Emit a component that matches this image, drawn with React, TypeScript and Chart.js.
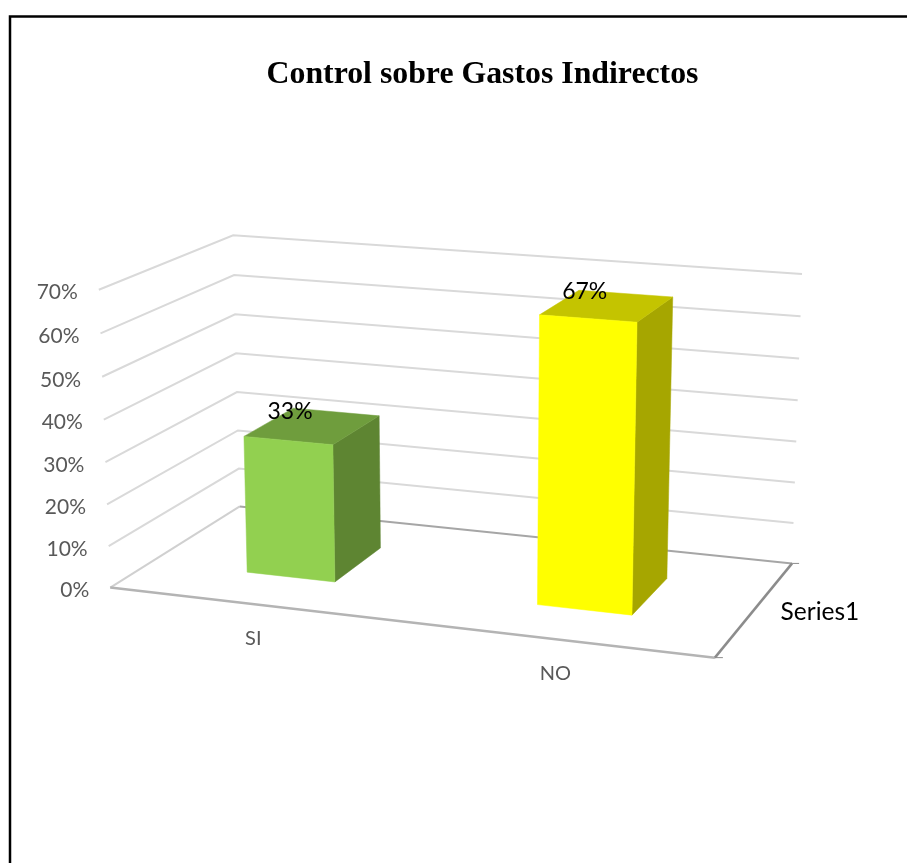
import React, { useEffect, useRef } from "react";
import { Chart, registerables } from "chart.js";

Chart.register(...registerables);

const categories = ["SI", "NO"];
const seriesName = "Series1";
const seriesValues = [33, 67];
const barColors = ["#92D050", "#FFFF00"];
const barTopColors = ["#6F9D3D", "#C4C400"];
const barSideColors = ["#5E8532", "#A6A600"];
const chartTitle = "Control sobre Gastos Indirectos";

// Camera calibration: where corners of the unit box (u along categories,
// v up the value axis, w into the depth) land on the page.
const camera: number[][] = [
  [0, 0, 0, 110, 587],
  [0, 1, 0, 99, 290],
  [0, 0, 1, 240, 507],
  [0, 1, 1, 233, 235],
  [1, 0, 1, 792, 563],
  [1, 1, 1, 802, 274],
  [1, 0, 0, 715, 658],
];
const depthRange = [0.3, 0.7];

function fitProjection(pts: number[][]): number[] {
  const n = 11;
  const A: number[][] = Array.from({ length: n }, () => new Array(n + 1).fill(0));
  const add = (row: number[], rhs: number) => {
    for (let i = 0; i < n; i++) {
      for (let j = 0; j < n; j++) A[i][j] += row[i] * row[j];
      A[i][n] += row[i] * rhs;
    }
  };
  for (const [u, v, w, x, y] of pts) {
    add([u, v, w, 1, 0, 0, 0, 0, -x * u, -x * v, -x * w], x);
    add([0, 0, 0, 0, u, v, w, 1, -y * u, -y * v, -y * w], y);
  }
  for (let c = 0; c < n; c++) {
    let best = c;
    for (let r = c + 1; r < n; r++) if (Math.abs(A[r][c]) > Math.abs(A[best][c])) best = r;
    [A[c], A[best]] = [A[best], A[c]];
    for (let r = 0; r < n; r++) {
      if (r === c) continue;
      const f = A[r][c] / A[c][c];
      for (let k = c; k <= n; k++) A[r][k] -= f * A[c][k];
    }
  }
  return A.map((row, i) => row[n] / row[i]);
}

const P = fitProjection(camera);
function project(u: number, v: number, w: number): [number, number] {
  const d = P[8] * u + P[9] * v + P[10] * w + 1;
  return [
    (P[0] * u + P[1] * v + P[2] * w + P[3]) / d,
    (P[4] * u + P[5] * v + P[6] * w + P[7]) / d,
  ];
}

const stroke = (ctx: CanvasRenderingContext2D, pts: [number, number][], color: string, width: number) => {
  ctx.beginPath();
  pts.forEach((p, i) => (i ? ctx.lineTo(p[0], p[1]) : ctx.moveTo(p[0], p[1])));
  ctx.strokeStyle = color;
  ctx.lineWidth = width;
  ctx.lineJoin = "miter";
  ctx.stroke();
};
const fill = (ctx: CanvasRenderingContext2D, pts: [number, number][], color: string) => {
  ctx.beginPath();
  pts.forEach((p, i) => (i ? ctx.lineTo(p[0], p[1]) : ctx.moveTo(p[0], p[1])));
  ctx.closePath();
  ctx.fillStyle = color;
  ctx.fill();
  ctx.strokeStyle = color;
  ctx.lineWidth = 0.5;
  ctx.stroke();
};

const perspectivePlugin = {
  id: "perspective3d",
  beforeDraw(chart: any) {
    const ctx = chart.ctx as CanvasRenderingContext2D;
    ctx.save();
    ctx.fillStyle = "#FFFFFF";
    ctx.fillRect(0, 0, chart.width, chart.height);
    stroke(ctx, [[10, chart.height], [10, 16.5], [chart.width, 16.5]], "#000000", 2.5);
    ctx.restore();
  },
  beforeDatasetsDraw(chart: any) {
    const ctx = chart.ctx as CanvasRenderingContext2D;
    const area = chart.chartArea;
    const yScale = chart.scales.y;
    const toU = (px: number) => (px - area.left) / (area.right - area.left);
    const toV = (px: number) => (area.bottom - px) / (area.bottom - area.top);
    ctx.save();

    // walls
    yScale.ticks.forEach((t: any) => {
      const v = toV(yScale.getPixelForValue(t.value));
      if (t.value !== 0) {
        stroke(ctx, [project(0, v, 0), project(0, v, 1), project(1, v, 1)], "#D9D9D9", 2);
      } else {
        stroke(ctx, [project(0, v, 0), project(0, v, 1)], "#D0D0D0", 2);
        stroke(ctx, [project(0, v, 1), project(1, v, 1)], "#A6A6A6", 2);
      }
    });

    // floor edges and depth-axis tick marks
    const fl = project(0, 0, 0);
    const fr = project(1, 0, 0);
    const br = project(1, 0, 1);
    stroke(ctx, [fl, fr], "#B4B4B4", 2.5);
    stroke(ctx, [fr, br], "#8C8C8C", 2.5);
    stroke(ctx, [fr, [fr[0] + 8, fr[1]]], "#8C8C8C", 1);
    stroke(ctx, [br, [br[0] + 7, br[1]]], "#8C8C8C", 1);

    // tick labels
    ctx.font = "21px Lato";
    ctx.fillStyle = "#595959";
    ctx.textAlign = "right";
    ctx.textBaseline = "middle";
    yScale.ticks.forEach((t: any) => {
      const v = toV(yScale.getPixelForValue(t.value));
      const p = project(0, v, 0);
      ctx.fillText(t.label as string, p[0] - 21, p[1] + 3);
    });

    // bars
    const meta = chart.getDatasetMeta(0);
    const [w0, w1] = depthRange;
    meta.data.forEach((bar: any, i: number) => {
      const u0 = toU(bar.x - bar.width / 2);
      const u1 = toU(bar.x + bar.width / 2);
      const v0 = toV(bar.base);
      const v1 = toV(bar.y);
      fill(ctx, [project(u1, v0, w0), project(u1, v0, w1), project(u1, v1, w1), project(u1, v1, w0)], barSideColors[i]);
      fill(ctx, [project(u0, v1, w0), project(u1, v1, w0), project(u1, v1, w1), project(u0, v1, w1)], barTopColors[i]);
      fill(ctx, [project(u0, v0, w0), project(u1, v0, w0), project(u1, v1, w0), project(u0, v1, w0)], barColors[i]);
    });

    // data labels
    ctx.font = "23px Lato";
    ctx.fillStyle = "#000000";
    ctx.textAlign = "center";
    meta.data.forEach((bar: any, i: number) => {
      const p = project(toU(bar.x), toV(bar.y), 0.5);
      ctx.fillText(`${seriesValues[i]}%`, p[0] - 22.5, p[1] - 14.5);
    });

    // category labels
    ctx.font = "20px Lato";
    ctx.fillStyle = "#595959";
    const xScale = chart.scales.x;
    categories.forEach((c, i) => {
      const p = project(toU(xScale.getPixelForValue(i)), 0, 0);
      ctx.fillText(c, p[0] + 0.5, p[1] + 34.5);
    });

    // series (depth) label
    ctx.font = "24.5px Lato";
    ctx.fillStyle = "#000000";
    ctx.textAlign = "left";
    const s = project(1, 0, 0.5);
    ctx.fillText(chart.data.datasets[0].label, s[0] + 25, s[1] + 4);

    ctx.restore();
    return false;
  },
};

export default function App() {
  const ref = useRef<HTMLCanvasElement>(null);
  useEffect(() => {
    const chart = new Chart(ref.current!, {
      type: "bar",
      data: {
        labels: categories,
        datasets: [
          {
            label: seriesName,
            data: seriesValues,
            backgroundColor: barColors,
            barPercentage: 0.31,
            categoryPercentage: 1,
          },
        ],
      },
      options: {
        responsive: false,
        animation: false,
        devicePixelRatio: 1,
        layout: { padding: { left: 58, top: 56, right: 0, bottom: 0 } },
        plugins: {
          legend: { display: false },
          tooltip: { enabled: false },
          title: {
            display: true,
            text: chartTitle,
            color: "#000000",
            font: { family: "'Liberation Serif'", size: 31.8, weight: "bold" },
            padding: 0,
          },
        },
        scales: {
          x: { type: "category", display: false },
          y: {
            type: "linear",
            display: false,
            min: 0,
            max: 70,
            ticks: { stepSize: 10, callback: (v: any) => `${v}%` },
          },
        },
      },
      plugins: [perspectivePlugin],
    } as any);
    return () => chart.destroy();
  }, []);
  return (
    <div style={{ position: "fixed", left: 0, top: 0, width: 907, height: 863, background: "#fff" }}>
      <canvas ref={ref} width={907} height={863} style={{ display: "block" }} />
    </div>
  );
}
